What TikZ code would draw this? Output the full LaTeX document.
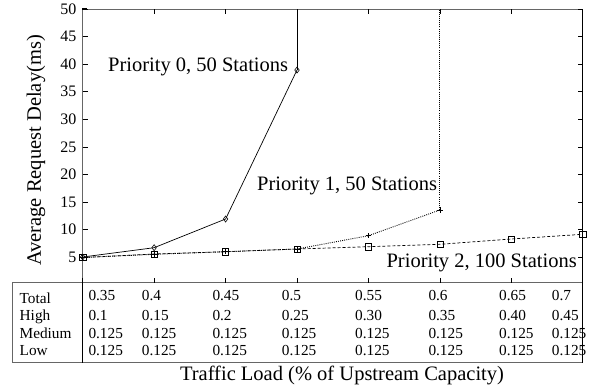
\documentclass[tikz,border=0pt]{standalone}
\usepackage{fontspec}
\setmainfont{Liberation Serif}
\usetikzlibrary{plotmarks}
\begin{document}
\begin{tikzpicture}[x=1pt,y=-1pt,
  thinaxis/.style={black!60, line width=0.5pt},
  boldaxis/.style={black, line width=1.5pt},
  tickmark/.style={black, line width=0.6pt},
  biglbl/.style={font=\fontsize{20.5}{24}\selectfont, inner sep=0pt},
  ticklbl/.style={font=\fontsize{16}{18}\selectfont, inner sep=0pt, anchor=east},
  tbl/.style={font=\fontsize{15.3}{17}\selectfont, inner sep=0pt, anchor=base west},
  pzero/.style={black, line width=0.7pt, mark=diamond, mark size=3pt, mark options={solid, line width=0.6pt}},
  pone/.style={black, line width=0.9pt, dash pattern=on 0.9pt off 1.2pt, mark=+, mark size=2.7pt, mark options={solid, line width=0.7pt}},
  ptwo/.style={black, line width=0.7pt, dash pattern=on 3pt off 2pt, mark=square, mark size=3.1pt, mark options={solid, line width=0.6pt}}]
\useasboundingbox (0,0) rectangle (590,389);
\fill[white] (0,0) rectangle (590,389);

% table frame
\draw[thinaxis] (12.7,282.7) rectangle (582.7,362.7);
% axes box
\draw[thinaxis] (82.7,282.7) -- (82.7,9) -- (582.7,9);
\draw[boldaxis] (82.7,277.7) -- (82.7,362.7);
\draw[boldaxis] (582.7,9) -- (582.7,362.7);
\draw[boldaxis] (82.2,9) -- (87,9);

% y ticks
\foreach \v/\y [count=\i] in {5/257.0,10/229.5,15/202.0,20/174.4,25/146.9,30/119.3,35/91.7,40/64.2,45/36.6,50/9.05} {
  \draw[tickmark] (82.7,\y) -- (87.7,\y);
  \draw[tickmark] (582.7,\y) -- (577.7,\y);
  \node[ticklbl] (yl\i) at (76.5,\y) {\v};
}
% x ticks
\foreach \x in {154.1,225.6,297.0,368.4,439.9,511.3} {
  \draw[tickmark] (\x,282.7) -- (\x,277.7);
  \draw[tickmark] (\x,9) -- (\x,14);
}

% data
\draw[ptwo] plot coordinates {(82.7,257.5) (154.1,254.0) (225.6,251.7) (297.0,249.0) (368.4,246.7) (439.9,244.3) (511.3,239.0) (582.7,234.3)};
\draw[pone] plot coordinates {(82.7,257.5) (154.1,254.3) (225.6,251.7) (297.0,249.0) (368.4,235.7) (439.9,210.0)};
\draw[pone, mark=none] (439.9,210.0) -- (439.9,9);
\draw[pzero] plot coordinates {(82.7,257.0) (154.1,247.7) (225.6,219.0) (297.0,70.0)};
\draw[pzero, mark=none] (297.0,70.0) -- (297.0,9);

% curve labels
\node[biglbl, anchor=base west] (l0) at (108,71.7) {Priority 0, 50 Stations};
\node[biglbl, anchor=base west] (l1) at (257,190) {Priority 1, 50 Stations};
\node[biglbl, anchor=base east] (l2) at (577,267.7) {Priority 2, 100 Stations};

% axis labels
\node[biglbl, anchor=base, rotate=90] (ylab) at (41,150.5) {Average Request Delay(ms)};
\node[biglbl, anchor=base] (xlab) at (342,380) {Traffic Load (\% of Upstream Capacity)};

% table
\node[tbl] (rt) at (19.5,303.3) {Total};
\node[tbl] (rh) at (19.5,320) {High};
\node[tbl] (rm) at (19.5,338) {Medium};
\node[tbl] (rl) at (19.5,355) {Low};
\foreach \x/\t/\h [count=\i] in {88.3/0.35/0.1, 141.7/0.4/0.15, 212.3/0.45/0.2, 281.7/0.5/0.25, 355/0.55/0.30, 428.3/0.6/0.35, 499/0.65/0.40, 551.7/0.7/0.45} {
  \node[tbl] (ct\i) at (\x,300.7) {\t};
  \node[tbl] (ch\i) at (\x,320) {\h};
  \node[tbl] (cm\i) at (\x,338) {0.125};
  \node[tbl] (cl\i) at (\x,355) {0.125};
}
\end{tikzpicture}
\end{document}
